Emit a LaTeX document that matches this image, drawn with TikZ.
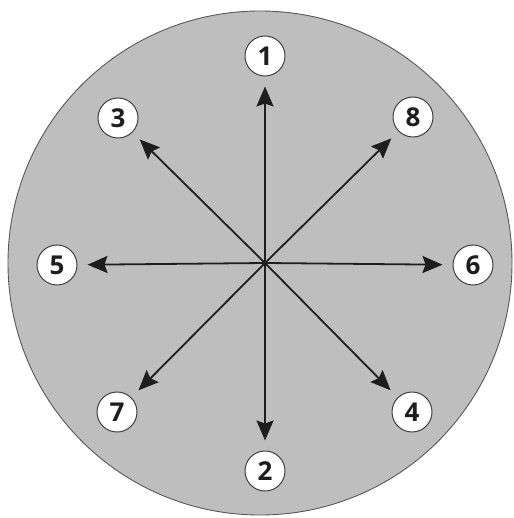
\documentclass[tikz,border=0pt]{standalone}
\usepackage{fontspec}
\setmainfont{Open Sans}
\usetikzlibrary{arrows.meta}
\definecolor{disc}{HTML}{BEBEBE}
\definecolor{ink}{HTML}{1E1E1E}
\tikzset{
  lbl/.style={circle, draw=black!75, line width=1pt, fill=white, minimum size=40pt, inner sep=0pt, font=\fontsize{26}{26}\selectfont\bfseries, text=ink},
  arr/.style={draw=ink, line width=1.8pt, -{Stealth[length=20pt,width=17pt,inset=3pt]}, shorten >=10pt}
}
\begin{document}
\begin{tikzpicture}[x=1pt,y=-1pt]
\useasboundingbox (0,0) rectangle (513,518);
\fill[white] (0,0) rectangle (513,518);
\draw[fill=disc, draw=black!65, line width=0.9pt] (260,263) circle[radius=252];
\coordinate (c) at (265,263);
\node[lbl] (n1) at (265,56) {1};
\node[lbl] (n2) at (265,471) {2};
\node[lbl] (n5) at (57,265) {5};
\node[lbl] (n6) at (473,265) {6};
\node[lbl] (n3) at (118,118) {3};
\node[lbl] (n8) at (413,117) {8};
\node[lbl] (n7) at (117,412) {7};
\node[lbl] (n4) at (412,412) {4};
\foreach \n in {1,2,3,4,5,6,7,8} \draw[arr] (c) -- (n\n);
\end{tikzpicture}
\end{document}
